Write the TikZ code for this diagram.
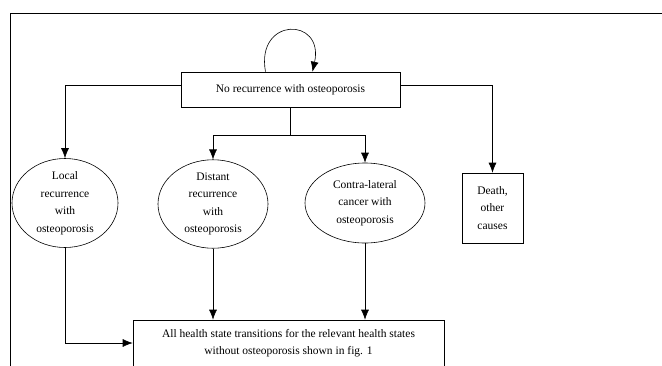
\documentclass[tikz,border=0pt]{standalone}
\usepackage{fontspec}
\setmainfont{Liberation Serif}
\usetikzlibrary{arrows.meta, shapes.geometric, positioning}

\begin{document}
\begin{tikzpicture}[x=1pt, y=-1pt, >={Latex[length=10pt,width=8pt]}, line width=0.6pt,
    every node/.style={font=\fontsize{11.5}{17.5}\selectfont, align=center},
    state/.style={draw, rectangle, inner sep=2pt},
    oval/.style={draw, ellipse, inner sep=0pt, minimum height=80pt}]
    % Khung ngoài
    \clip (0,0) rectangle (662,365);
    \draw (10,380) -- (10,13) -- (680,13);

    % Các trạng thái
    \node[state, minimum width=219pt, minimum height=35pt] (norec) at (290.5,89.5) {No recurrence with osteoporosis};
    \node[oval, minimum width=106pt] (local) at (65,203) {Local\\recurrence\\with\\osteoporosis};
    \node[oval, minimum width=110pt, minimum height=82pt] (distant) at (213,204) {Distant\\recurrence\\with\\osteoporosis};
    \node[oval, minimum width=120pt] (contra) at (365,203) {Contra-lateral\\cancer with\\osteoporosis};
    \node[state, minimum width=61pt, minimum height=70pt] (death) at (492.5,208) {Death,\\other\\causes};
    \node[state, minimum width=311pt, minimum height=46pt] (all) at (288.5,343) {All health state transitions for the relevant health states\\without osteoporosis shown in fig. 1};

    % Các chuyển tiếp
    \draw[->] ([xshift=-25pt]norec.north) .. controls +(-10,-55) and +(12,-55) .. ([xshift=22pt]norec.north);
    \draw[->] ([yshift=4.5pt]norec.west) -| (local.north);
    \draw[->] ([yshift=4.5pt]norec.east) -| (death.north);
    \coordinate (split) at (norec.south |- 0,135);
    \draw (norec.south) -- (split);
    \draw[->] (split) -| (distant.north);
    \draw[->] (split) -| (contra.north);
    \draw[->] (local.south) |- (all.west);
    \draw[->] (distant.south) -- (distant.south |- all.north);
    \draw[->] (contra.south) -- (contra.south |- all.north);
\end{tikzpicture}
\end{document}
